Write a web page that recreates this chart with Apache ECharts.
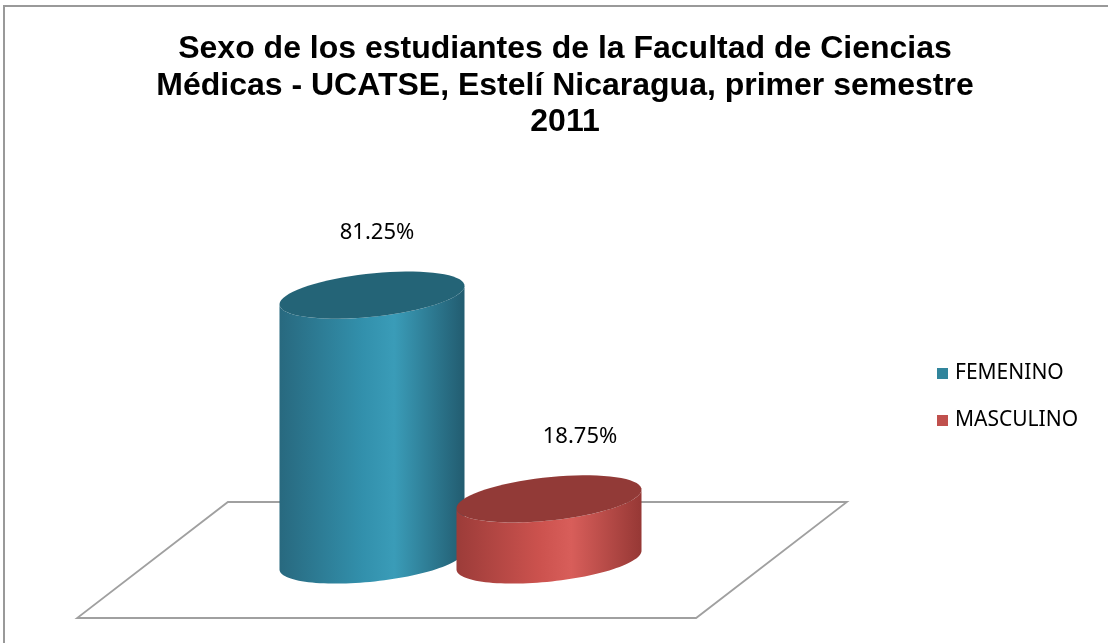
<!DOCTYPE html>
<html>
<head>
<meta charset="utf-8">
<script src="https://cdn.jsdelivr.net/npm/echarts@6/dist/echarts.min.js"></script>
<style>
  html, body { margin: 0; padding: 0; background: #fff; }
  #chart { width: 1108px; height: 643px; }
</style>
</head>
<body>
<div id="chart"></div>
<script>
var categories = ['FEMENINO', 'MASCULINO'];
var percentages = [81.25, 18.75];
var titleText = 'Sexo de los estudiantes de la Facultad de Ciencias\nMédicas - UCATSE, Estelí Nicaragua, primer semestre\n2011';

var sideColors = [
    ['#28697f', '#3290ac', '#3a9cb8', '#225c70'],
    ['#9c3c39', '#cc524e', '#d85e5a', '#963835']
];
var topColors = ['#246477', '#923a37'];
var legendColors = ['#31859c', '#c0504d'];

// tilted ellipse point
function ellPt(cx, cy, a, b, t, phi) {
    return [
        cx + a * Math.cos(t) * Math.cos(phi) - b * Math.sin(t) * Math.sin(phi),
        cy - a * Math.cos(t) * Math.sin(phi) + b * Math.sin(t) * Math.cos(phi)
    ];
}

function renderCylinder(params, api) {
    var idx = api.value(0);
    var val = api.value(1);
    var base = api.coord([idx, 0]);
    var top = api.coord([idx, val]);
    var band = api.size([1, 0])[0];
    var a = band * 0.525;
    var b = 22;
    var phi = 0.095;
    var s = params.seriesIndex;
    var children = [];

    if (s === 0) {
        // floor of the 3d chart
        var cs = params.coordSys;
        var depth = 58;
        var skew = 1.3;
        var xl = cs.x - 131, xr = cs.x + cs.width + 134;
        var y0 = base[1];
        children.push({
            type: 'polygon',
            shape: {
                points: [
                    [xl + depth * skew, y0 - depth],
                    [xr + depth * skew, y0 - depth],
                    [xr - depth * skew, y0 + depth],
                    [xl - depth * skew, y0 + depth]
                ]
            },
            style: { fill: 'none', stroke: '#a0a0a0', lineWidth: 1.8 }
        });
    }

    var cx = base[0];
    var pts = [];
    var n = 60;
    for (var i = 0; i <= n; i++) {
        pts.push(ellPt(cx, base[1], a, b, Math.PI * i / n, phi));
    }
    for (var j = n; j >= 0; j--) {
        pts.push(ellPt(cx, top[1], a, b, Math.PI * j / n, phi));
    }
    var c = sideColors[s];
    children.push({
        type: 'polygon',
        shape: { points: pts },
        style: {
            fill: new echarts.graphic.LinearGradient(0, 0, 1, 0, [
                { offset: 0, color: c[0] },
                { offset: 0.45, color: c[1] },
                { offset: 0.62, color: c[2] },
                { offset: 1, color: c[3] }
            ])
        }
    });
    var topPts = [];
    for (var k = 0; k < 72; k++) {
        topPts.push(ellPt(cx, top[1], a, b, Math.PI * 2 * k / 72, phi));
    }
    children.push({
        type: 'polygon',
        shape: { points: topPts },
        style: { fill: topColors[s] }
    });
    children.push({
        type: 'text',
        style: {
            x: cx + (s === 0 ? 5 : 31),
            y: top[1] - b - 40,
            text: val.toFixed(2) + '%',
            fill: '#000',
            font: '22px "Noto Sans"',
            align: 'center',
            verticalAlign: 'middle'
        }
    });
    return { type: 'group', children: children };
}

var chart = echarts.init(document.getElementById('chart'));

var series = categories.map(function (name, i) {
    return {
        name: name,
        type: 'custom',
        renderItem: renderCylinder,
        itemStyle: { color: legendColors[i] },
        encode: { x: 0, y: 1 },
        data: [[i, percentages[i]]]
    };
});

chart.setOption({
    backgroundColor: '#fff',
    animation: false,
    title: {
        text: titleText,
        left: 560,
        top: 26,
        textAlign: 'center',
        textStyle: {
            fontFamily: 'Liberation Sans',
            fontWeight: 'bold',
            fontSize: 32,
            lineHeight: 36.5,
            color: '#000'
        }
    },
    legend: {
        orient: 'vertical',
        left: 932,
        top: 358,
        itemGap: 26,
        itemWidth: 11,
        itemHeight: 11,
        icon: 'rect',
        data: categories,
        textStyle: { fontFamily: 'Noto Sans', fontSize: 21, color: '#000', padding: [0, 0, 0, 2] }
    },
    graphic: [{
        type: 'rect',
        silent: true,
        shape: { x: 4, y: 6, width: 1300, height: 900 },
        style: { fill: 'none', stroke: '#999', lineWidth: 2 }
    }],
    grid: { left: 283.5, right: 470.5, top: 234, bottom: 83 },
    xAxis: {
        type: 'category',
        data: categories,
        show: false
    },
    yAxis: {
        type: 'value',
        min: 0,
        max: 100,
        show: false
    },
    series: series
});
</script>
</body>
</html>
